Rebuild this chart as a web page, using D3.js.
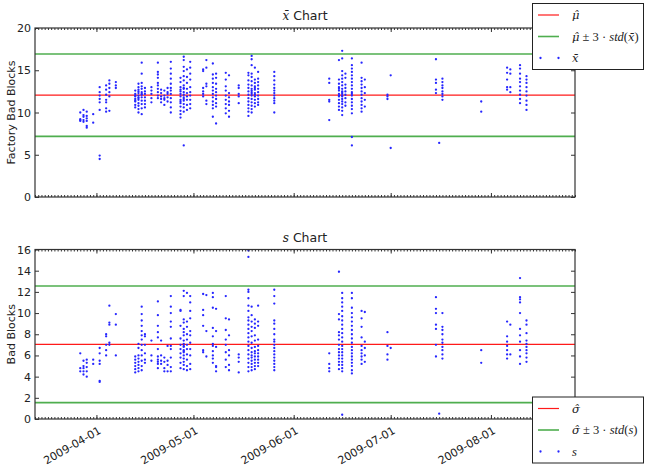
<!DOCTYPE html>
<html>
<head>
<meta charset="utf-8">
<title>x-bar and s charts</title>
<style>
  body { margin: 0; background: #fff; }
  svg text { font-family: "DejaVu Sans", sans-serif; fill: #222; }
  .math { font-family: "DejaVu Serif", serif; font-style: italic; }
</style>
</head>
<body>
<script src="https://cdn.jsdelivr.net/npm/d3@7"></script>
<script>
// DATA: sample day, then the values plotted on that day
var xbarGroups = [
  ["2009-03-27", [10.0, 9.2, 9.0, 9.1]],
  ["2009-03-28", [10.3, 9.7, 9.1, 8.9, 9.5]],
  ["2009-03-29", [10.1, 9.6, 9.0, 8.4, 8.2, 9.3]],
  ["2009-03-31", [9.8, 8.8]],
  ["2009-04-02", [13.0, 12.4, 12.0, 11.6, 11.2, 10.3, 4.9, 4.5]],
  ["2009-04-04", [13.2, 12.7, 12.1, 11.5, 11.2, 10.5, 10.1]],
  ["2009-04-05", [13.8, 13.4, 12.9, 12.4, 11.9, 10.2]],
  ["2009-04-07", [13.6, 13.2, 12.9]],
  ["2009-04-13", [12.6, 12.2, 11.9, 11.6, 11.3, 10.9, 10.6, 12.0, 11.4]],
  ["2009-04-14", [13.4, 13.0, 12.7, 12.3, 12.0, 11.8, 11.5, 11.1, 10.8, 10.4, 10.0, 12.5, 11.7]],
  ["2009-04-15", [15.9, 14.6, 13.5, 13.1, 12.8, 12.4, 12.1, 11.8, 11.4, 11.0, 10.5, 9.8, 12.2]],
  ["2009-04-16", [12.9, 12.5, 12.2, 11.8, 11.4, 11.0, 10.6]],
  ["2009-04-18", [13.0, 12.6, 12.2, 11.7, 11.2]],
  ["2009-04-20", [15.9, 14.8, 14.5, 14.1, 13.5, 13.2, 12.8, 12.4, 12.0, 11.7]],
  ["2009-04-21", [12.7, 12.3, 11.9, 11.6, 11.2]],
  ["2009-04-22", [12.6, 12.0, 11.7, 11.5, 10.9]],
  ["2009-04-23", [12.9, 12.4, 12.2, 11.8, 11.3]],
  ["2009-04-24", [16.0, 15.2, 14.6, 14.0, 13.4, 12.9, 12.6, 12.2, 11.7, 11.2, 10.6, 10.0]],
  ["2009-04-27", [14.1, 13.6, 13.0, 12.5, 12.2, 11.9, 11.5, 11.1, 10.7, 10.2, 9.8, 9.4, 12.7, 11.3]],
  ["2009-04-28", [16.6, 16.2, 15.4, 14.9, 14.3, 13.8, 13.2, 12.8, 12.4, 12.1, 11.8, 11.4, 11.0, 10.6, 10.1, 6.1, 12.9, 11.6]],
  ["2009-04-29", [15.1, 14.2, 13.5, 12.8, 12.3, 11.9, 11.5, 10.9, 10.3]],
  ["2009-04-30", [16.0, 15.3, 14.6, 13.9, 13.0, 12.4, 12.0, 11.5, 11.0, 10.5]],
  ["2009-05-04", [15.1, 14.9, 12.9, 12.5, 12.2, 11.9]],
  ["2009-05-05", [16.2, 15.3, 13.4, 13.1, 11.4, 11.0]],
  ["2009-05-07", [15.8, 14.5, 14.0, 13.5, 13.0, 12.6, 12.2, 11.8, 11.3, 10.9, 10.5, 9.5]],
  ["2009-05-08", [14.6, 14.1, 13.4, 12.8, 12.4, 12.0, 11.6, 11.1, 10.7, 8.7]],
  ["2009-05-11", [14.7, 13.9, 13.1, 12.6, 12.0, 11.5, 11.0, 10.5, 9.9]],
  ["2009-05-12", [14.4, 12.3, 11.8, 11.3, 10.9, 10.2, 9.5]],
  ["2009-05-15", [13.2, 12.9, 12.2, 11.9, 11.1]],
  ["2009-05-18", [14.7, 14.4, 13.8, 13.3, 12.9, 12.5, 12.1, 11.7, 11.3, 10.9, 10.5, 10.1, 9.6]],
  ["2009-05-19", [16.7, 16.3, 15.6, 14.6, 14.2, 13.7, 13.2, 12.8, 12.4, 12.0, 11.6, 11.2, 10.8, 10.4, 10.0, 12.6, 12.2]],
  ["2009-05-20", [15.3, 13.9, 13.5, 13.1, 12.7, 12.3, 11.9, 11.5, 11.1, 10.7, 12.9, 12.1]],
  ["2009-05-21", [14.8, 14.0, 13.6, 13.2, 12.8, 12.4, 12.0, 11.6, 11.2, 10.9]],
  ["2009-05-26", [14.8, 14.3, 13.8, 13.3, 12.9, 12.6, 12.3, 12.0, 11.7, 11.4, 11.1, 10.0]],
  ["2009-06-12", [14.0, 13.5, 11.5, 11.3, 9.1]],
  ["2009-06-15", [16.2, 13.9, 13.4, 13.0, 12.6, 12.2, 11.9, 11.5, 11.1, 10.7, 10.3, 12.8, 12.0]],
  ["2009-06-16", [17.3, 16.4, 14.9, 14.4, 14.0, 13.6, 13.2, 12.8, 12.5, 12.2, 11.9, 11.6, 11.3, 11.0, 10.6, 10.2, 9.7, 12.4, 12.0]],
  ["2009-06-17", [14.6, 14.1, 13.3, 12.9, 12.5, 12.1, 11.7, 11.2, 10.8]],
  ["2009-06-19", [16.4, 15.6, 15.2, 14.8, 14.4, 14.0, 13.6, 13.2, 12.8, 12.4, 12.0, 11.6, 11.2, 10.8, 10.4, 9.9, 7.1, 6.1, 12.2]],
  ["2009-06-22", [15.9, 14.1, 13.7, 13.3, 12.9, 12.5, 12.1, 11.7, 11.3, 10.9, 10.5, 10.1]],
  ["2009-06-23", [13.9, 13.0, 12.3, 11.5, 10.7]],
  ["2009-06-30", [12.1, 11.9, 11.6]],
  ["2009-07-01", [14.4, 5.8]],
  ["2009-07-15", [16.3, 13.9, 13.5, 12.7, 12.3]],
  ["2009-07-16", [6.4]],
  ["2009-07-17", [14.0, 13.6, 13.2, 12.9, 12.5, 12.2, 11.9, 11.5]],
  ["2009-07-29", [11.3, 10.1]],
  ["2009-08-06", [15.3, 14.7, 13.9, 13.0, 12.7]],
  ["2009-08-07", [15.1, 14.6, 13.0, 12.4]],
  ["2009-08-10", [15.6, 15.2, 14.6, 14.0, 13.6, 13.1, 12.6, 12.1, 11.6, 11.1]],
  ["2009-08-12", [14.3, 13.9, 13.5, 13.0, 12.5, 12.0, 11.4, 10.9, 10.3]]
];

var sGroups = [
  ["2009-03-27", [6.2, 4.8, 4.5]],
  ["2009-03-28", [5.5, 5.0, 4.8, 4.5, 4.2]],
  ["2009-03-29", [5.6, 5.3, 4.9, 4.5, 4.0]],
  ["2009-03-31", [5.6, 5.2]],
  ["2009-04-02", [6.7, 6.2, 5.5, 5.2, 3.6, 3.5]],
  ["2009-04-04", [8.0, 7.8, 7.0, 6.5, 6.0]],
  ["2009-04-05", [10.7, 9.1, 8.9, 7.2, 7.0]],
  ["2009-04-07", [9.9, 8.9, 6.0]],
  ["2009-04-13", [5.9, 5.6, 5.3, 5.0, 4.7, 4.4]],
  ["2009-04-14", [7.1, 6.7, 6.0, 5.7, 5.4, 5.1, 4.8, 4.5]],
  ["2009-04-15", [10.6, 9.9, 9.3, 8.8, 8.3, 7.9, 7.5, 7.0, 6.5, 6.0, 5.5, 5.0, 4.6]],
  ["2009-04-16", [8.0, 7.8, 7.0, 6.2, 5.6, 5.3]],
  ["2009-04-18", [7.4, 6.0, 5.5]],
  ["2009-04-20", [11.1, 9.8, 8.8, 8.2, 7.7, 6.6, 5.9, 5.6, 5.4, 5.2, 4.8]],
  ["2009-04-21", [7.4, 6.0, 5.5, 5.2]],
  ["2009-04-22", [5.8, 5.4, 4.8, 4.5]],
  ["2009-04-23", [6.9, 5.5, 5.1, 4.5]],
  ["2009-04-24", [11.6, 10.6, 10.0, 9.2, 8.7, 7.6, 6.9, 6.6, 5.8, 4.9, 4.5]],
  ["2009-04-27", [10.3, 10.2, 8.8, 7.6, 7.0, 6.6, 6.2, 5.8, 5.3, 4.8]],
  ["2009-04-28", [12.1, 11.6, 9.4, 9.1, 8.5, 8.2, 7.9, 7.4, 7.1, 6.8, 6.5, 6.3, 6.0, 5.7, 5.4, 5.1, 4.7, 6.9, 6.4]],
  ["2009-04-29", [11.9, 9.2, 8.7, 8.0, 7.5, 7.0, 6.6, 6.1, 5.6, 5.0, 4.6]],
  ["2009-04-30", [11.6, 11.0, 10.2, 9.5, 8.3, 7.9, 7.2, 6.6, 6.0, 5.2, 4.7]],
  ["2009-05-04", [11.8, 10.3, 9.8, 8.8, 6.5, 6.3]],
  ["2009-05-05", [11.7, 8.3, 5.9]],
  ["2009-05-07", [11.9, 11.5, 10.5, 8.6, 7.8, 7.1, 6.9, 6.4, 6.0, 5.7, 5.3]],
  ["2009-05-08", [10.4, 8.3, 6.8, 5.0, 4.9, 4.5]],
  ["2009-05-11", [11.6, 9.5, 8.4, 7.5, 7.0, 6.3, 5.6, 4.9]],
  ["2009-05-12", [9.4, 7.9, 6.5, 6.0, 5.1, 4.6]],
  ["2009-05-15", [6.1, 5.8, 5.4, 4.4]],
  ["2009-05-18", [15.9, 15.3, 12.2, 12.0, 11.4, 10.7, 10.2, 9.6, 9.3, 8.9, 8.5, 8.1, 7.7, 7.3, 6.9, 6.5, 6.1, 5.7, 5.3, 4.9, 4.5]],
  ["2009-05-19", [10.6, 9.8, 9.2, 8.7, 8.3, 7.8, 7.2, 6.7, 6.3, 6.0, 5.8, 5.5, 5.2, 4.9, 4.6]],
  ["2009-05-20", [9.4, 9.0, 8.6, 7.9, 7.4, 6.8, 6.4, 6.2, 5.9, 5.6, 5.3, 5.0, 4.7]],
  ["2009-05-21", [10.7, 9.2, 8.8, 7.5, 6.9, 6.5, 6.2, 5.9, 5.6, 5.3, 5.0]],
  ["2009-05-26", [12.2, 11.6, 10.9, 9.3, 9.0, 8.5, 8.0, 7.5, 7.3, 7.0, 6.7, 6.4, 6.1, 5.8, 5.5, 5.2, 4.9, 4.6]],
  ["2009-06-12", [6.2, 5.2, 4.8, 4.5]],
  ["2009-06-15", [13.9, 9.9, 9.4, 8.2, 7.9, 7.5, 7.0, 6.6, 6.3, 6.0, 5.7, 5.4, 5.1, 4.7]],
  ["2009-06-16", [11.9, 11.4, 11.0, 10.6, 10.2, 9.7, 9.3, 8.9, 8.5, 8.1, 7.7, 7.3, 6.9, 6.6, 6.3, 6.0, 5.7, 5.4, 5.1, 4.8, 4.5, 0.4]],
  ["2009-06-19", [11.9, 11.4, 10.5, 10.0, 9.6, 9.2, 8.8, 8.4, 8.0, 7.6, 7.2, 6.8, 6.5, 6.2, 5.9, 5.6, 5.3, 5.0, 4.6, 4.3]],
  ["2009-06-22", [10.2, 9.5, 8.7, 7.7, 6.9, 6.5, 6.2, 5.9, 5.6, 5.2]],
  ["2009-06-23", [10.1, 7.3, 6.7, 6.0, 5.4]],
  ["2009-06-30", [8.2, 6.9, 6.1, 5.6]],
  ["2009-07-01", [6.7]],
  ["2009-07-15", [11.5, 10.4, 10.0, 8.9, 8.5, 7.0, 5.9]],
  ["2009-07-16", [0.5]],
  ["2009-07-17", [10.0, 8.7, 8.4, 8.0, 7.5, 7.2, 6.8, 6.5, 6.1, 5.7]],
  ["2009-07-29", [6.5, 5.3]],
  ["2009-08-06", [9.2, 7.8, 7.3, 6.9, 6.5, 6.1, 5.7]],
  ["2009-08-07", [8.9, 6.1]],
  ["2009-08-10", [13.3, 11.5, 11.3, 11.0, 10.0, 8.5, 7.9, 7.3, 6.5, 5.9, 5.2]],
  ["2009-08-12", [9.3, 8.9, 8.1, 7.4, 7.1, 6.8, 6.5, 6.2, 5.8, 5.4]]
];

// control lines: [centre, lower, upper]
var xbarLimits = [12.05, 7.18, 16.92];
var sLimits = [7.05, 1.55, 12.55];

var dateRange = ["2009-03-13", "2009-08-27"];
var monthTicks = ["2009-04-01", "2009-05-01", "2009-06-01", "2009-07-01", "2009-08-01"];
var xbarTicks = [0, 5, 10, 15, 20];
var sTicks = [0, 2, 4, 6, 8, 10, 12, 14, 16];

var parse = d3.utcParse("%Y-%m-%d");
var fmt = d3.utcFormat("%Y-%m-%d");

var W = 646, H = 476;
var left = 35, right = 575;

var svg = d3.select("body").append("svg")
  .attr("width", W).attr("height", H);

var x = d3.scaleUtc()
  .domain(dateRange.map(parse))
  .range([left, right]);

var days = d3.utcDay.range(parse(dateRange[0]), d3.utcDay.offset(parse(dateRange[1]), 1));

function flatten(groups) {
  var out = [];
  groups.forEach(function(g) {
    g[1].forEach(function(v) { out.push({date: parse(g[0]), v: v}); });
  });
  return out;
}

function panel(cfg) {
  var y = d3.scaleLinear().domain(cfg.domain).range([cfg.bottom, cfg.top]);
  var g = svg.append("g");

  // control lines
  var lines = [
    {v: cfg.limits[0], c: "#ff1a1a", w: 1.2},
    {v: cfg.limits[1], c: "#4fae4f", w: 1.6},
    {v: cfg.limits[2], c: "#4fae4f", w: 1.6}
  ];
  g.selectAll("line.ctl").data(lines).enter().append("line")
    .attr("x1", left).attr("x2", right)
    .attr("y1", function(d) { return y(d.v); })
    .attr("y2", function(d) { return y(d.v); })
    .attr("stroke", function(d) { return d.c; })
    .attr("stroke-width", function(d) { return d.w; });

  // points
  g.selectAll("circle").data(flatten(cfg.groups)).enter().append("circle")
    .attr("cx", function(d) { return x(d.date); })
    .attr("cy", function(d) { return y(d.v); })
    .attr("r", 1.15)
    .attr("fill", "#2626ff");

  // axes, ticks pointing inward
  var minor = d3.axisBottom(x).tickValues(days).tickSize(-2).tickFormat("");
  var minorTop = d3.axisTop(x).tickValues(days).tickSize(-2).tickFormat("");
  var major = d3.axisBottom(x).tickValues(monthTicks.map(parse)).tickSize(-4).tickPadding(4)
    .tickFormat(cfg.dates ? fmt : "");
  var majorTop = d3.axisTop(x).tickValues(monthTicks.map(parse)).tickSize(-4).tickFormat("");
  var yl = d3.axisLeft(y).tickValues(cfg.ticks).tickSize(-4).tickPadding(4);
  var yr = d3.axisRight(y).tickValues(cfg.ticks).tickSize(-4).tickFormat("");

  var axes = [
    g.append("g").attr("transform", "translate(0," + cfg.bottom + ")").call(minor),
    g.append("g").attr("transform", "translate(0," + cfg.top + ")").call(minorTop),
    g.append("g").attr("class", "xmaj").attr("transform", "translate(0," + cfg.bottom + ")").call(major),
    g.append("g").attr("transform", "translate(0," + cfg.top + ")").call(majorTop),
    g.append("g").attr("transform", "translate(" + left + ",0)").call(yl),
    g.append("g").attr("transform", "translate(" + right + ",0)").call(yr)
  ];
  axes.forEach(function(a) {
    a.select(".domain").remove();
    a.selectAll(".tick line").attr("stroke", "#333");
    a.selectAll("text").attr("fill", "#222").style("font-size", "11px")
      .style("font-family", "'DejaVu Sans', sans-serif");
  });

  if (cfg.dates) {
    g.select(".xmaj").selectAll(".tick text")
      .attr("text-anchor", "end")
      .attr("dy", "0.35em")
      .attr("transform", "translate(1,7) rotate(-30)");
  }

  g.append("rect")
    .attr("x", left).attr("y", cfg.top)
    .attr("width", right - left).attr("height", cfg.bottom - cfg.top)
    .attr("fill", "none").attr("stroke", "#333").attr("stroke-width", 1.2);

  // title
  var t = g.append("text")
    .attr("x", (left + right) / 2).attr("y", cfg.top - 8)
    .attr("text-anchor", "middle").style("font-size", "12.5px");
  t.append("tspan").attr("class", "math").style("font-size", "12px").text(cfg.sym);
  t.append("tspan").text(" Chart");

  g.append("text")
    .attr("transform", "translate(15," + (cfg.top + cfg.bottom) / 2 + ") rotate(-90)")
    .attr("text-anchor", "middle").style("font-size", "11px")
    .text(cfg.ylabel);

  // legend
  var lg = g.append("g").attr("transform", "translate(" + cfg.legend[0] + "," + cfg.legend[1] + ")");
  lg.append("rect").attr("x", 0.5).attr("y", 0.5).attr("width", 111).attr("height", 66)
    .attr("fill", "#fff").attr("stroke", "#222").attr("stroke-width", 1);
  lg.append("line").attr("x1", 6).attr("x2", 27).attr("y1", 12).attr("y2", 12)
    .attr("stroke", "#ff1a1a").attr("stroke-width", 1.2);
  lg.append("line").attr("x1", 6).attr("x2", 27).attr("y1", 33.5).attr("y2", 33.5)
    .attr("stroke", "#4fae4f").attr("stroke-width", 1.6);
  lg.selectAll("circle").data([8.5, 26.5]).enter().append("circle")
    .attr("cx", function(d) { return d; }).attr("cy", 55).attr("r", 1.15).attr("fill", "#2626ff");

  // parts: [text, italic, use DejaVu Serif for combining accents]
  cfg.labels.forEach(function(parts, i) {
    var tx = lg.append("text").attr("x", 40).attr("y", 16 + i * 21.5)
      .style("font-size", "12.5px").style("font-family", "'Liberation Serif', serif");
    parts.forEach(function(p) {
      var ts = tx.append("tspan").style("font-style", p[1] ? "italic" : "normal").text(p[0]);
      if (p[2]) ts.style("font-family", "'DejaVu Serif', serif").style("font-size", "11.5px");
    });
  });
}

panel({
  top: 28, bottom: 197, domain: [0, 20], ticks: xbarTicks,
  groups: xbarGroups, limits: xbarLimits, dates: false,
  sym: "x\u0304", ylabel: "Factory Bad Blocks", legend: [532, 3],
  labels: [
    [["\u03bc\u0302", true, true]],
    [["\u03bc\u0302", true, true], [" \u00b1 3 \u00b7 ", false], ["std", true], ["(", false], ["x\u0304", true, true], [")", false]],
    [["x\u0304", true, true]]
  ]
});

panel({
  top: 249.5, bottom: 419, domain: [0, 16], ticks: sTicks,
  groups: sGroups, limits: sLimits, dates: true,
  sym: "s", ylabel: "Bad Blocks", legend: [532, 396.5],
  labels: [
    [["\u03c3\u0302", true, true]],
    [["\u03c3\u0302", true, true], [" \u00b1 3 \u00b7 ", false], ["std", true], ["(", false], ["s", true], [")", false]],
    [["s", true]]
  ]
});
</script>
</body>
</html>
